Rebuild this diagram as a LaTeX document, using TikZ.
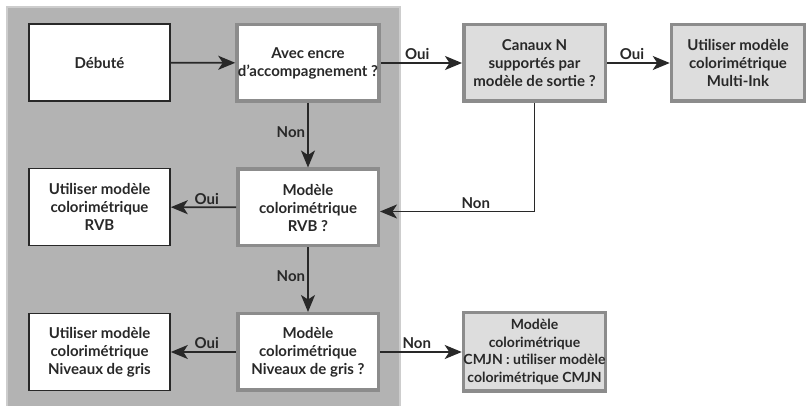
\documentclass[tikz,border=0pt]{standalone}
\usepackage{fontspec}
\setmainfont{Lato}
\usetikzlibrary{arrows.meta}
\definecolor{panelfill}{RGB}{179,179,179}
\definecolor{panelline}{RGB}{205,205,205}
\definecolor{boxgray}{RGB}{140,140,140}
\definecolor{lightfill}{RGB}{221,221,221}
\definecolor{ink}{RGB}{40,40,40}
\tikzset{
  base/.style={align=center, inner sep=1pt, font=\fontsize{15}{18}\selectfont\bfseries, text=ink},
  plainbox/.style={base, draw=ink, line width=1.6pt, fill=white, minimum width=141pt, minimum height=77pt},
  decbox/.style={base, draw=boxgray, line width=3.5pt, fill=white, minimum width=140.5pt, minimum height=76.5pt},
  outbox/.style={base, draw=boxgray, line width=3.5pt, fill=lightfill, minimum width=141.5pt, minimum height=76.5pt},
  conn/.style={draw=ink, line width=1.8pt, -{Stealth[length=17pt,width=14pt,inset=4.5pt]}},
  lbl/.style={base, inner sep=2pt}
}
\begin{document}
\begin{tikzpicture}[x=1pt,y=-1pt]
\useasboundingbox (0,0) rectangle (807,406);
\fill[white] (0,0) rectangle (807,406);
\draw[fill=panelfill, draw=panelline, line width=2pt] (7,7) rectangle (400,410);
\node[plainbox] (deb) at (99.5,62.5) {Débuté};
\node[decbox] (avec) at (308,63) {Avec encre\\d'accompagnement ?};
\node[outbox] (can) at (534.5,63) {Canaux N\\supportés par\\modèle de sortie ?};
\node[outbox, minimum width=133pt] (multi) at (738,63) {Utiliser modèle\\colorimétrique\\Multi-Ink};
\node[plainbox] (urvb) at (99.5,207) {Utiliser modèle\\colorimétrique\\RVB};
\node[decbox] (mrvb) at (308,207.5) {Modèle\\colorimétrique\\RVB ?};
\node[decbox] (mgris) at (308,352) {Modèle\\colorimétrique\\Niveaux de gris ?};
\node[plainbox] (ugris) at (99.5,352) {Utiliser modèle\\colorimétrique\\Niveaux de gris};
\node[outbox, minimum height=78.5pt, inner sep=0pt, font=\fontsize{14}{17.5}\selectfont\bfseries] (cmjn) at (534.5,352) {Modèle\\colorimétrique\\CMJN : utiliser modèle\\colorimétrique CMJN};

\draw[conn] (deb) -- (avec);
\draw[conn] (avec) -- node[lbl, above, pos=0.45] {Oui} (can);
\draw[conn] (can) -- node[lbl, above, pos=0.4] {Oui} (multi);
\draw[conn] (avec) -- node[lbl, left, pos=0.45] {Non} (mrvb);
\draw[conn] (can.south) |- node[lbl, above, pos=0.69] {Non} ([yshift=-4pt]mrvb.east);
\draw[conn] (mrvb) -- node[lbl, above, pos=0.45] {Oui} (urvb);
\draw[conn] (mrvb) -- node[lbl, left, pos=0.45] {Non} (mgris);
\draw[conn] (mgris) -- node[lbl, above, pos=0.45] {Oui} (ugris);
\draw[conn] (mgris) -- node[lbl, above, pos=0.45] {Non} (cmjn);
\end{tikzpicture}
\end{document}
